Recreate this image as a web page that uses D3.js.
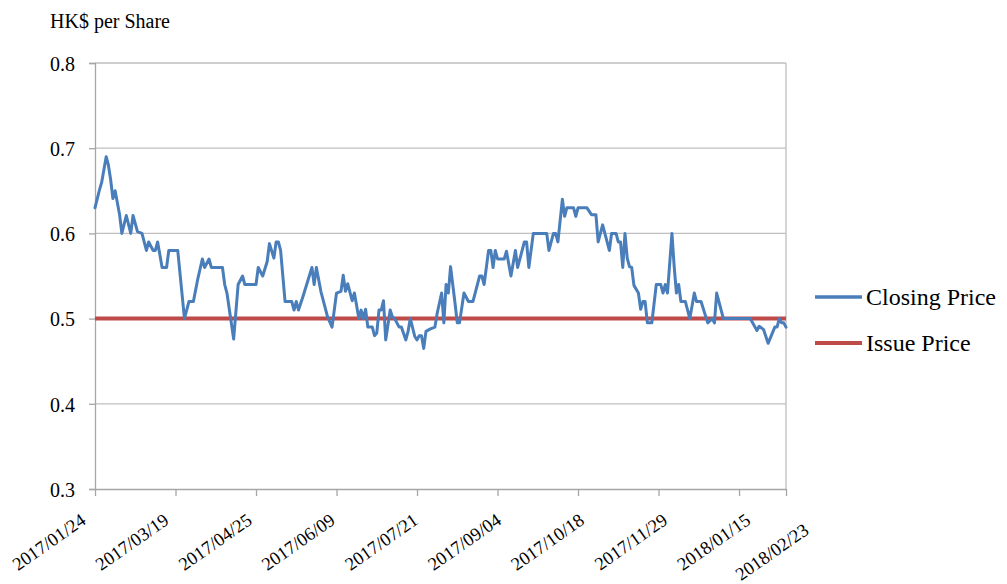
<!DOCTYPE html>
<html><head><meta charset="utf-8">
<script src="https://cdn.jsdelivr.net/npm/d3@7/dist/d3.min.js"></script>
<style>body{margin:0;background:#fff}svg{display:block}svg text{font-family:"Liberation Serif","Times New Roman",Times,"DejaVu Serif",serif;fill:#000}</style>
</head><body><svg id="c" width="1007" height="584"></svg>
<script>
// Trading-day index (0 = 2017/01/24, 309 = 2018/02/23) and closing price at each turning point
const closeIdx = [0,2,3,5,6,7,8,9,11,12,14,16,17,19,21,23,24,26,27,28,30,32,33,37,40,42,44,46,48,49,51,52,57,58,59,62,64,66,67,72,73,75,77,78,80,81,82,83,85,88,89,90,91,93,97,98,99,101,104,106,108,110,111,112,113,115,116,118,119,120,121,122,124,125,126,127,128,129,130,132,133,134,136,137,139,140,141,143,144,145,146,147,148,150,152,153,155,156,157,158,159,161,162,163,165,167,169,172,173,174,176,177,178,179,180,183,184,186,188,189,192,193,194,196,202,203,205,206,207,209,210,211,214,215,216,220,222,224,225,227,230,231,233,234,235,236,237,238,239,240,241,243,244,245,246,247,249,251,253,254,255,256,258,259,260,261,262,264,266,268,269,271,274,276,277,278,281,293,296,297,299,301,304,305,306,307,308,309];
const closePrice = [0.63,0.651,0.66,0.69,0.68,0.663,0.641,0.65,0.622,0.60,0.621,0.60,0.621,0.602,0.60,0.58,0.59,0.58,0.58,0.59,0.56,0.56,0.58,0.58,0.50,0.52,0.52,0.547,0.57,0.56,0.57,0.56,0.56,0.54,0.53,0.476,0.54,0.55,0.54,0.54,0.56,0.55,0.567,0.588,0.571,0.59,0.59,0.58,0.52,0.52,0.51,0.52,0.51,0.526,0.56,0.54,0.56,0.532,0.502,0.49,0.53,0.532,0.551,0.532,0.541,0.521,0.53,0.50,0.51,0.50,0.511,0.49,0.49,0.48,0.483,0.51,0.51,0.521,0.475,0.51,0.502,0.50,0.49,0.49,0.475,0.485,0.50,0.479,0.475,0.48,0.48,0.465,0.485,0.488,0.49,0.506,0.53,0.495,0.54,0.53,0.561,0.518,0.495,0.495,0.53,0.52,0.52,0.55,0.55,0.54,0.58,0.58,0.56,0.58,0.57,0.57,0.579,0.55,0.58,0.56,0.59,0.59,0.56,0.60,0.60,0.58,0.60,0.60,0.59,0.64,0.62,0.63,0.63,0.62,0.63,0.63,0.622,0.622,0.59,0.61,0.58,0.60,0.60,0.59,0.59,0.56,0.60,0.571,0.561,0.56,0.539,0.53,0.511,0.52,0.52,0.495,0.495,0.54,0.54,0.53,0.54,0.53,0.60,0.561,0.53,0.54,0.52,0.52,0.50,0.53,0.52,0.52,0.495,0.50,0.495,0.53,0.50,0.50,0.486,0.491,0.487,0.471,0.49,0.49,0.50,0.495,0.495,0.49];
const issueIdx = [0,309];
const issuePrice = [0.5,0.5];
const tickIdx = [0,36,72,108,144,180,216,252,288,309];
const tickLabels = ["2017/01/24","2017/03/19","2017/04/25","2017/06/09","2017/07/21","2017/09/04","2017/10/18","2017/11/29","2018/01/15","2018/02/23"];
const yTicks = [0.3,0.4,0.5,0.6,0.7,0.8];
const seriesNames = ["Closing Price","Issue Price"];
const seriesColors = ["#4a7ebb","#be4b48"];

const FONT = '"Liberation Serif","Times New Roman",Times,"DejaVu Serif",serif';
const svg = d3.select("#c");
const L=95, R=786, T=63, B=489;
const x = d3.scaleLinear().domain([0,309]).range([L,R]);
const y = d3.scaleLinear().domain([0.3,0.8]).range([B,T]);
const gridC="#bfbfbf", axisC="#a6a6a6";

svg.append("g").selectAll("line").data(yTicks.filter(v=>v>0.3)).join("line")
  .attr("x1",L).attr("x2",R).attr("y1",d=>y(d)).attr("y2",d=>y(d))
  .attr("stroke",gridC).attr("stroke-width",1.3);
svg.append("line").attr("x1",R).attr("x2",R).attr("y1",T).attr("y2",B).attr("stroke",gridC).attr("stroke-width",1.3);

const ya = svg.append("g").attr("transform",`translate(${L},0)`)
  .call(d3.axisLeft(y).tickValues(yTicks).tickFormat(d3.format(".1f")).tickSize(6).tickPadding(14));
ya.attr("font-family",FONT);
ya.select(".domain").attr("stroke",axisC).attr("stroke-width",1.3);
ya.selectAll(".tick line").attr("stroke",axisC).attr("stroke-width",1.3);
ya.selectAll(".tick text").attr("font-size",20).attr("font-family",FONT).attr("dy","0.36em").attr("fill","#000");

const xa = svg.append("g").attr("transform",`translate(0,${B})`)
  .call(d3.axisBottom(x).tickValues(tickIdx).tickFormat("").tickSize(7).tickSizeOuter(0));
xa.select(".domain").attr("stroke",axisC).attr("stroke-width",1.3);
xa.selectAll(".tick line").attr("stroke",axisC).attr("stroke-width",1.3);

svg.append("g").selectAll("text").data(tickIdx).join("text")
  .attr("transform",(d,k)=>{
    const last = k===tickIdx.length-1;
    const ax = x(d) + (last ? 24 : (-8 + k*2.6));
    const ay = last ? 533 : 523;
    return `translate(${ax},${ay}) rotate(-35)`;
  })
  .attr("font-family",FONT).attr("text-anchor","end").attr("font-size",18.5).text((d,k)=>tickLabels[k]);

svg.append("text").attr("x",50).attr("y",28).attr("font-family",FONT).attr("font-size",20).text("HK$ per Share");

const line = d3.line().x(d=>x(d[0])).y(d=>y(d[1]));
svg.append("path").datum(issueIdx.map((d,i)=>[d,issuePrice[i]]))
  .attr("d",line).attr("fill","none").attr("stroke",seriesColors[1]).attr("stroke-width",4);
svg.append("path").datum(closeIdx.map((d,i)=>[d,closePrice[i]]))
  .attr("d",line).attr("fill","none").attr("stroke",seriesColors[0]).attr("stroke-width",3).attr("stroke-linejoin","round").attr("stroke-linecap","round");

const lg = svg.append("g").selectAll("g").data(seriesNames).join("g")
  .attr("transform",(d,i)=>`translate(815,${297+i*46})`);
lg.append("line").attr("x1",0).attr("x2",47).attr("stroke",(d,i)=>seriesColors[i]).attr("stroke-width",(d,i)=>i?4:3.5);
lg.append("text").attr("x",51).attr("y",8).attr("font-family",FONT).attr("font-size",24).text(d=>d);
</script></body></html>
